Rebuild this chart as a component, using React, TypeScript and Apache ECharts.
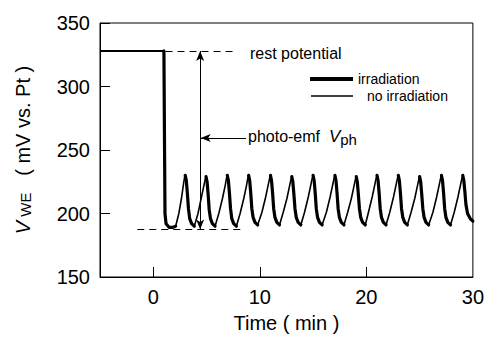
import React, { useEffect, useRef } from "react";
import * as echarts from "echarts";

const FONT = "'Liberation Sans', Arial, Helvetica, sans-serif";

// time axis (min) and potential axis (mV)
const xMin = -5;
const xMax = 30;
const xLabelValues = [0, 10, 20, 30];
const xTickValues = [0, 10, 20];
const yMin = 150;
const yMax = 350;
const yInterval = 50;

// annotation levels
const restPotential = 328;
const baseLevel = 187.5;
const arrowTime = 4.4;
const emfArrowLevel = 259.5;

// trace before irradiation starts
const restTrace: number[][] = [
  [-5, 328],
  [1.0, 328],
];

// thick trace: irradiation (falling parts)
const irradiationSegments: number[][][] = [
  [[1.0, 328], [1.05, 262], [1.1, 200], [1.2, 192], [1.5, 189], [1.8, 189], [2.1, 190]],
  [[3.0, 230], [3.1, 226], [3.2, 216], [3.3, 204], [3.42, 196], [3.6, 192], [3.85, 190]],
  [[4.95, 229], [5.05, 225], [5.15, 215], [5.25, 203], [5.37, 196], [5.55, 192], [5.8, 190]],
  [[6.95, 230], [7.05, 226], [7.15, 216], [7.25, 204], [7.37, 196], [7.55, 192], [7.8, 190]],
  [[8.95, 230], [9.05, 226], [9.15, 216], [9.25, 204], [9.37, 197], [9.55, 193], [9.8, 191]],
  [[11.0, 230], [11.1, 226], [11.2, 216], [11.3, 204], [11.42, 197], [11.6, 193], [11.85, 191]],
  [[13.0, 229], [13.1, 225], [13.2, 215], [13.3, 204], [13.42, 197], [13.6, 193], [13.85, 191]],
  [[15.0, 230], [15.1, 226], [15.2, 216], [15.3, 204], [15.42, 197], [15.6, 193], [15.85, 191]],
  [[17.05, 230], [17.15, 226], [17.25, 216], [17.35, 204], [17.47, 197], [17.65, 193], [17.9, 191]],
  [[19.05, 229], [19.15, 225], [19.25, 215], [19.35, 204], [19.47, 197], [19.65, 193], [19.9, 191]],
  [[21.0, 230], [21.1, 226], [21.2, 216], [21.3, 204], [21.42, 197], [21.6, 193], [21.85, 191]],
  [[23.0, 230], [23.1, 226], [23.2, 216], [23.3, 204], [23.42, 197], [23.6, 193], [23.85, 191]],
  [[25.0, 229], [25.1, 225], [25.2, 215], [25.3, 204], [25.42, 197], [25.6, 193], [25.85, 191]],
  [[27.05, 230], [27.15, 226], [27.25, 216], [27.35, 204], [27.47, 197], [27.65, 193], [27.9, 191]],
  [[29.05, 230], [29.15, 226], [29.25, 217], [29.35, 207], [29.5, 200], [29.75, 196], [30.0, 194]],
];

// thin trace: no irradiation (rising parts)
const noIrradiationSegments: number[][][] = [
  [[2.1, 190], [2.4, 200], [2.65, 212], [2.85, 224], [2.95, 229], [3.0, 230]],
  [[3.85, 190], [4.2, 200], [4.5, 212], [4.75, 222], [4.88, 227], [4.95, 229]],
  [[5.8, 190], [6.15, 200], [6.5, 212], [6.75, 222], [6.88, 228], [6.95, 230]],
  [[7.8, 190], [8.15, 200], [8.5, 212], [8.75, 222], [8.88, 228], [8.95, 230]],
  [[9.8, 191], [10.2, 201], [10.55, 213], [10.8, 223], [10.93, 228], [11.0, 230]],
  [[11.85, 191], [12.2, 201], [12.55, 212], [12.8, 222], [12.93, 227], [13.0, 229]],
  [[13.85, 191], [14.2, 201], [14.55, 213], [14.8, 223], [14.93, 228], [15.0, 230]],
  [[15.85, 191], [16.25, 201], [16.6, 213], [16.85, 223], [16.98, 228], [17.05, 230]],
  [[17.9, 191], [18.25, 201], [18.6, 212], [18.85, 222], [18.98, 227], [19.05, 229]],
  [[19.9, 191], [20.2, 201], [20.55, 213], [20.8, 223], [20.93, 228], [21.0, 230]],
  [[21.85, 191], [22.2, 201], [22.55, 213], [22.8, 223], [22.93, 228], [23.0, 230]],
  [[23.85, 191], [24.2, 201], [24.55, 212], [24.8, 222], [24.93, 227], [25.0, 229]],
  [[25.85, 191], [26.25, 201], [26.6, 213], [26.85, 223], [26.98, 228], [27.05, 230]],
  [[27.9, 191], [28.25, 201], [28.6, 213], [28.85, 223], [28.98, 228], [29.05, 230]],
];

const legendNames = ["irradiation", "no irradiation"];

function joinSegments(segs: number[][][]) {
  const out: any[] = [];
  segs.forEach((s, i) => {
    if (i > 0) out.push([s[0][0], "-"]);
    s.forEach((p) => out.push(p));
  });
  return out;
}

export default function App() {
  const ref = useRef<HTMLDivElement>(null);
  useEffect(() => {
    if (!ref.current) return;
    const chart = echarts.init(ref.current, null, { renderer: "svg" });
    const black = "#000";
    const option: any = {
      animation: false,
      backgroundColor: "#fff",
      grid: {
        left: 100,
        right: 14,
        top: 23,
        bottom: 58,
        show: true,
        borderColor: black,
        borderWidth: 1,
        backgroundColor: "transparent",
      },
      legend: [
        {
          data: [legendNames[0]],
          left: 305,
          top: 67,
          icon: "rect",
          itemWidth: 43,
          itemHeight: 4,
          selectedMode: false,
          itemStyle: { color: black },
          textStyle: { fontSize: 14, lineHeight: 14, fontFamily: FONT, color: black, padding: [0, 0, 0, 0] },
        },
        {
          data: [legendNames[1]],
          left: 306,
          top: 84,
          icon: "rect",
          itemWidth: 42,
          itemHeight: 1.5,
          selectedMode: false,
          itemStyle: { color: black },
          textStyle: { fontSize: 14, lineHeight: 14, fontFamily: FONT, color: black, padding: [0, 0, 0, 9] },
        },
      ],
      xAxis: {
        type: "value",
        min: xMin,
        max: xMax,
        axisLine: { show: true, onZero: false, lineStyle: { color: black, width: 1 } },
        axisTick: {
          show: true,
          inside: true,
          length: 10,
          customValues: xTickValues,
          lineStyle: { color: black, width: 1 },
        },
        axisLabel: {
          customValues: xLabelValues,
          fontSize: 20,
          fontFamily: FONT,
          color: black,
          margin: 10,
        },
        splitLine: { show: false },
        name: "Time ( min )",
        nameLocation: "middle",
        nameGap: 36,
        nameTextStyle: { fontSize: 20, fontFamily: FONT, color: black },
      },
      yAxis: {
        type: "value",
        min: yMin,
        max: yMax,
        interval: yInterval,
        axisLine: { show: true, onZero: false, lineStyle: { color: black, width: 1 } },
        axisTick: { show: true, inside: true, length: 10, lineStyle: { color: black, width: 1 } },
        axisLabel: { fontSize: 20, fontFamily: FONT, color: black, margin: 10 },
        splitLine: { show: false },
        name: "{v|V}{s| WE}{t|   ( mV vs. Pt )}",
        nameLocation: "middle",
        nameRotate: 90,
        nameGap: 67,
        nameTextStyle: {
          color: black,
          fontFamily: FONT,
          rich: {
            v: { fontSize: 20, fontStyle: "italic", fontFamily: FONT, color: black, verticalAlign: "bottom" },
            s: { fontSize: 15, fontFamily: FONT, color: black, verticalAlign: "bottom" },
            t: { fontSize: 20, fontFamily: FONT, color: black, verticalAlign: "bottom" },
          },
        },
      },
      graphic: [
        {
          type: "text",
          x: 250,
          y: 53,
          style: {
            text: "rest potential",
            fontSize: 16,
            fontFamily: FONT,
            fill: black,
            verticalAlign: "middle",
          },
        },
        {
          type: "text",
          x: 248,
          y: 137,
          style: {
            text: "{a|photo-emf  }{v|V}{s|ph}",
            fill: black,
            verticalAlign: "middle",
            rich: {
              a: { fontSize: 16, fontFamily: FONT, fill: black, verticalAlign: "bottom", padding: [0, 0, 2, 0] },
              v: { fontSize: 17, fontStyle: "italic", fontFamily: FONT, fill: black, verticalAlign: "bottom", padding: [0, 0, 2, 0] },
              s: { fontSize: 15, fontFamily: FONT, fill: black, verticalAlign: "bottom" },
            },
          },
        },
      ],
      series: [
        {
          name: "rest",
          type: "line",
          data: restTrace,
          showSymbol: false,
          symbol: "none",
          lineStyle: { color: black, width: 2 },
          itemStyle: { color: black },
          z: 3,
          markLine: {
            silent: true,
            symbol: ["none", "none"],
            label: { show: false },
            lineStyle: { color: black, width: 1, type: "solid" },
            data: [
              [
                { coord: [1.15, restPotential], lineStyle: { color: black, width: 1, type: [7, 5] } },
                { coord: [7.6, restPotential] },
              ],
              [
                { coord: [-1.5, baseLevel], lineStyle: { color: black, width: 1, type: [7, 5] } },
                { coord: [8.2, baseLevel] },
              ],
              [
                { coord: [arrowTime, restPotential], symbol: "arrow", symbolSize: [6, 10], lineStyle: { color: black, width: 1, type: "solid" } },
                { coord: [arrowTime, baseLevel], symbol: "arrow", symbolSize: [6, 10] },
              ],
              [
                { coord: [8.7, emfArrowLevel], symbol: "none", lineStyle: { color: black, width: 1, type: "solid" } },
                { coord: [arrowTime + 0.05, emfArrowLevel], symbol: "arrow", symbolSize: [6, 10] },
              ],
            ],
          },
        },
        {
          name: legendNames[1],
          type: "line",
          data: joinSegments(noIrradiationSegments),
          connectNulls: false,
          showSymbol: false,
          symbol: "none",
          color: black,
          lineStyle: { color: black, width: 1.6, join: "round" },
          itemStyle: { color: black },
          z: 4,
        },
        {
          name: legendNames[0],
          type: "line",
          data: joinSegments(irradiationSegments),
          connectNulls: false,
          showSymbol: false,
          symbol: "none",
          color: black,
          lineStyle: { color: black, width: 3.2, join: "round", cap: "round" },
          itemStyle: { color: black },
          z: 5,
        },
      ],
    };
    chart.setOption(option);
    return () => chart.dispose();
  }, []);
  return (
    <div
      ref={ref}
      style={{ position: "fixed", left: 0, top: 0, width: 487, height: 338, background: "#fff" }}
    />
  );
}
